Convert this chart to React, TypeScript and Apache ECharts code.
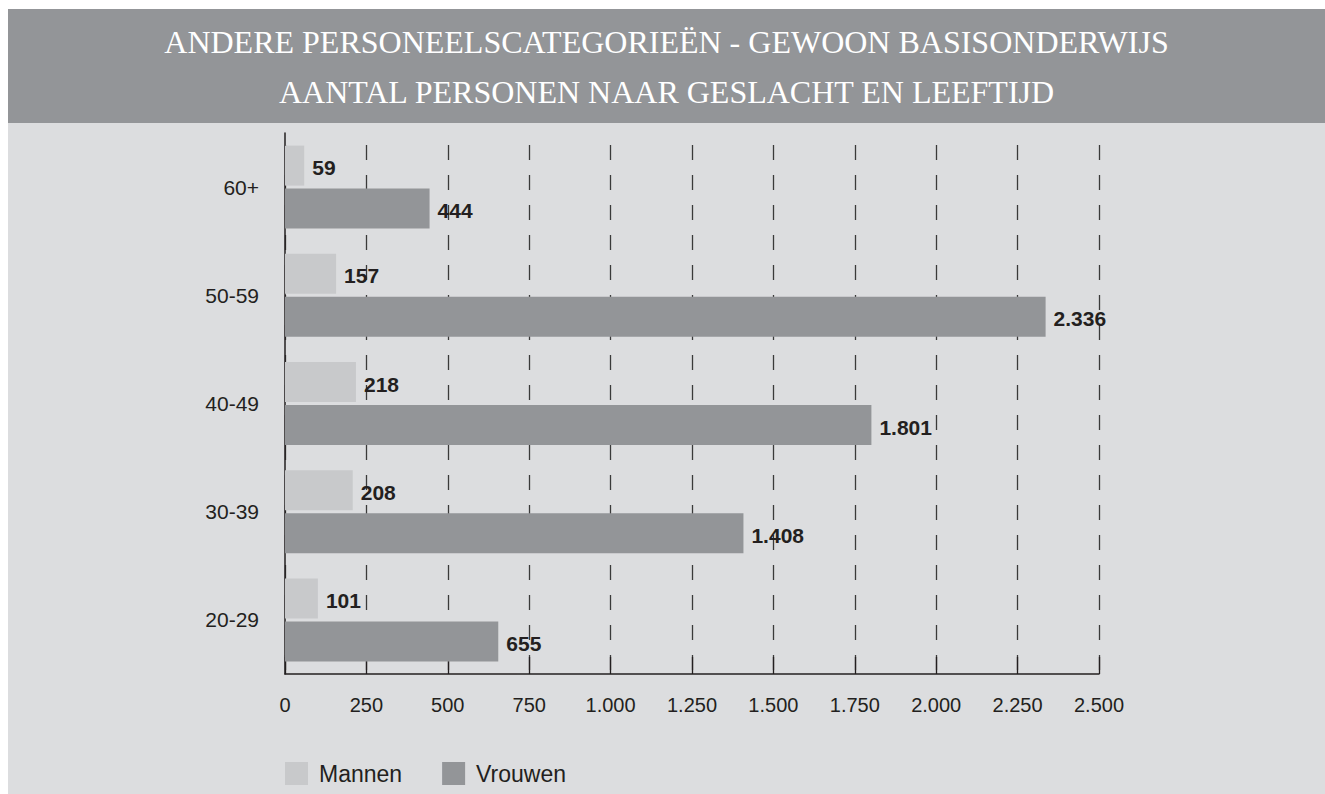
import React, { useEffect, useRef } from "react";
import * as echarts from "echarts";

const titleLines = [
  "ANDERE PERSONEELSCATEGORIEËN - GEWOON BASISONDERWIJS",
  "AANTAL PERSONEN NAAR GESLACHT EN LEEFTIJD",
];
const categories = ["60+", "50-59", "40-49", "30-39", "20-29"];
const mannen = [59, 157, 218, 208, 101];
const vrouwen = [444, 2336, 1801, 1408, 655];
const seriesNames = ["Mannen", "Vrouwen"];
const axisMin = 0;
const axisMax = 2500;
const axisStep = 250;

const fmt = (v: number) =>
  String(Math.round(v)).replace(/\B(?=(\d{3})+(?!\d))/g, ".");

const DARK = "#231f20";
const BAND = "#939598";
const BG = "#dcdddf";
const LIGHTBAR = "#c8c9cb";

export default function App() {
  const ref = useRef<HTMLDivElement>(null);
  useEffect(() => {
    if (!ref.current) return;
    const chart = echarts.init(ref.current, null, { renderer: "svg" });
    const labelStyle = {
      show: true,
      position: "right",
      distance: 8,
      offset: [0, 2],
      fontFamily: "Liberation Sans",
      fontWeight: "bold",
      fontSize: 21,
      color: DARK,
      formatter: (p: any) => fmt(p.value),
    };
    chart.setOption({
      animation: false,
      backgroundColor: BG,
      graphic: [
        {
          type: "rect",
          left: 0,
          top: 0,
          z: -10,
          shape: { width: 1317, height: 114 },
          style: { fill: BAND },
        },
      ],
      title: {
        text: titleLines.join("\n"),
        left: "center",
        top: 8,
        padding: 0,
        textStyle: {
          color: "#ffffff",
          fontFamily: "Liberation Serif",
          fontWeight: "normal",
          fontSize: 32,
          lineHeight: 50,
        },
      },
      legend: {
        left: 277,
        top: 753,
        padding: 0,
        itemWidth: 23,
        itemHeight: 23,
        itemGap: 40,
        icon: "rect",
        data: seriesNames,
        textStyle: {
          fontFamily: "Liberation Sans",
          fontSize: 23,
          color: DARK,
          padding: [0, 0, 0, 6],
        },
      },
      grid: { left: 277, right: 226, top: 124, bottom: 120, containLabel: false },
      xAxis: {
        type: "value",
        min: axisMin,
        max: axisMax,
        interval: axisStep,
        axisLine: { show: true, lineStyle: { color: DARK, width: 1.5 } },
        axisTick: { show: true, inside: true, length: 17, lineStyle: { color: DARK, width: 1.3 } },
        axisLabel: {
          margin: 21,
          fontFamily: "Liberation Sans",
          fontSize: 20,
          color: DARK,
          formatter: (v: number) => fmt(v),
        },
        splitLine: {
          show: true,
          lineStyle: { color: "#3a3a3a", width: 1.3, type: [15, 15], dashOffset: 18 },
        },
      },
      yAxis: {
        type: "category",
        inverse: true,
        data: categories,
        axisLine: { show: true, lineStyle: { color: DARK, width: 1.5 } },
        axisTick: { show: false },
        axisLabel: {
          margin: 26,
          fontFamily: "Liberation Sans",
          fontSize: 21,
          color: DARK,
        },
      },
      series: [
        {
          name: seriesNames[0],
          type: "bar",
          data: mannen,
          barWidth: 40,
          barGap: "7.5%",
          itemStyle: { color: LIGHTBAR },
          label: labelStyle,
          z: 3,
        },
        {
          name: seriesNames[1],
          type: "bar",
          data: vrouwen,
          barWidth: 40,
          barGap: "7.5%",
          itemStyle: { color: BAND },
          label: labelStyle,
          z: 3,
        },
      ],
    });
    return () => chart.dispose();
  }, []);
  return (
    <div
      ref={ref}
      style={{ position: "fixed", left: 8, top: 9, width: 1317, height: 785 }}
    />
  );
}
